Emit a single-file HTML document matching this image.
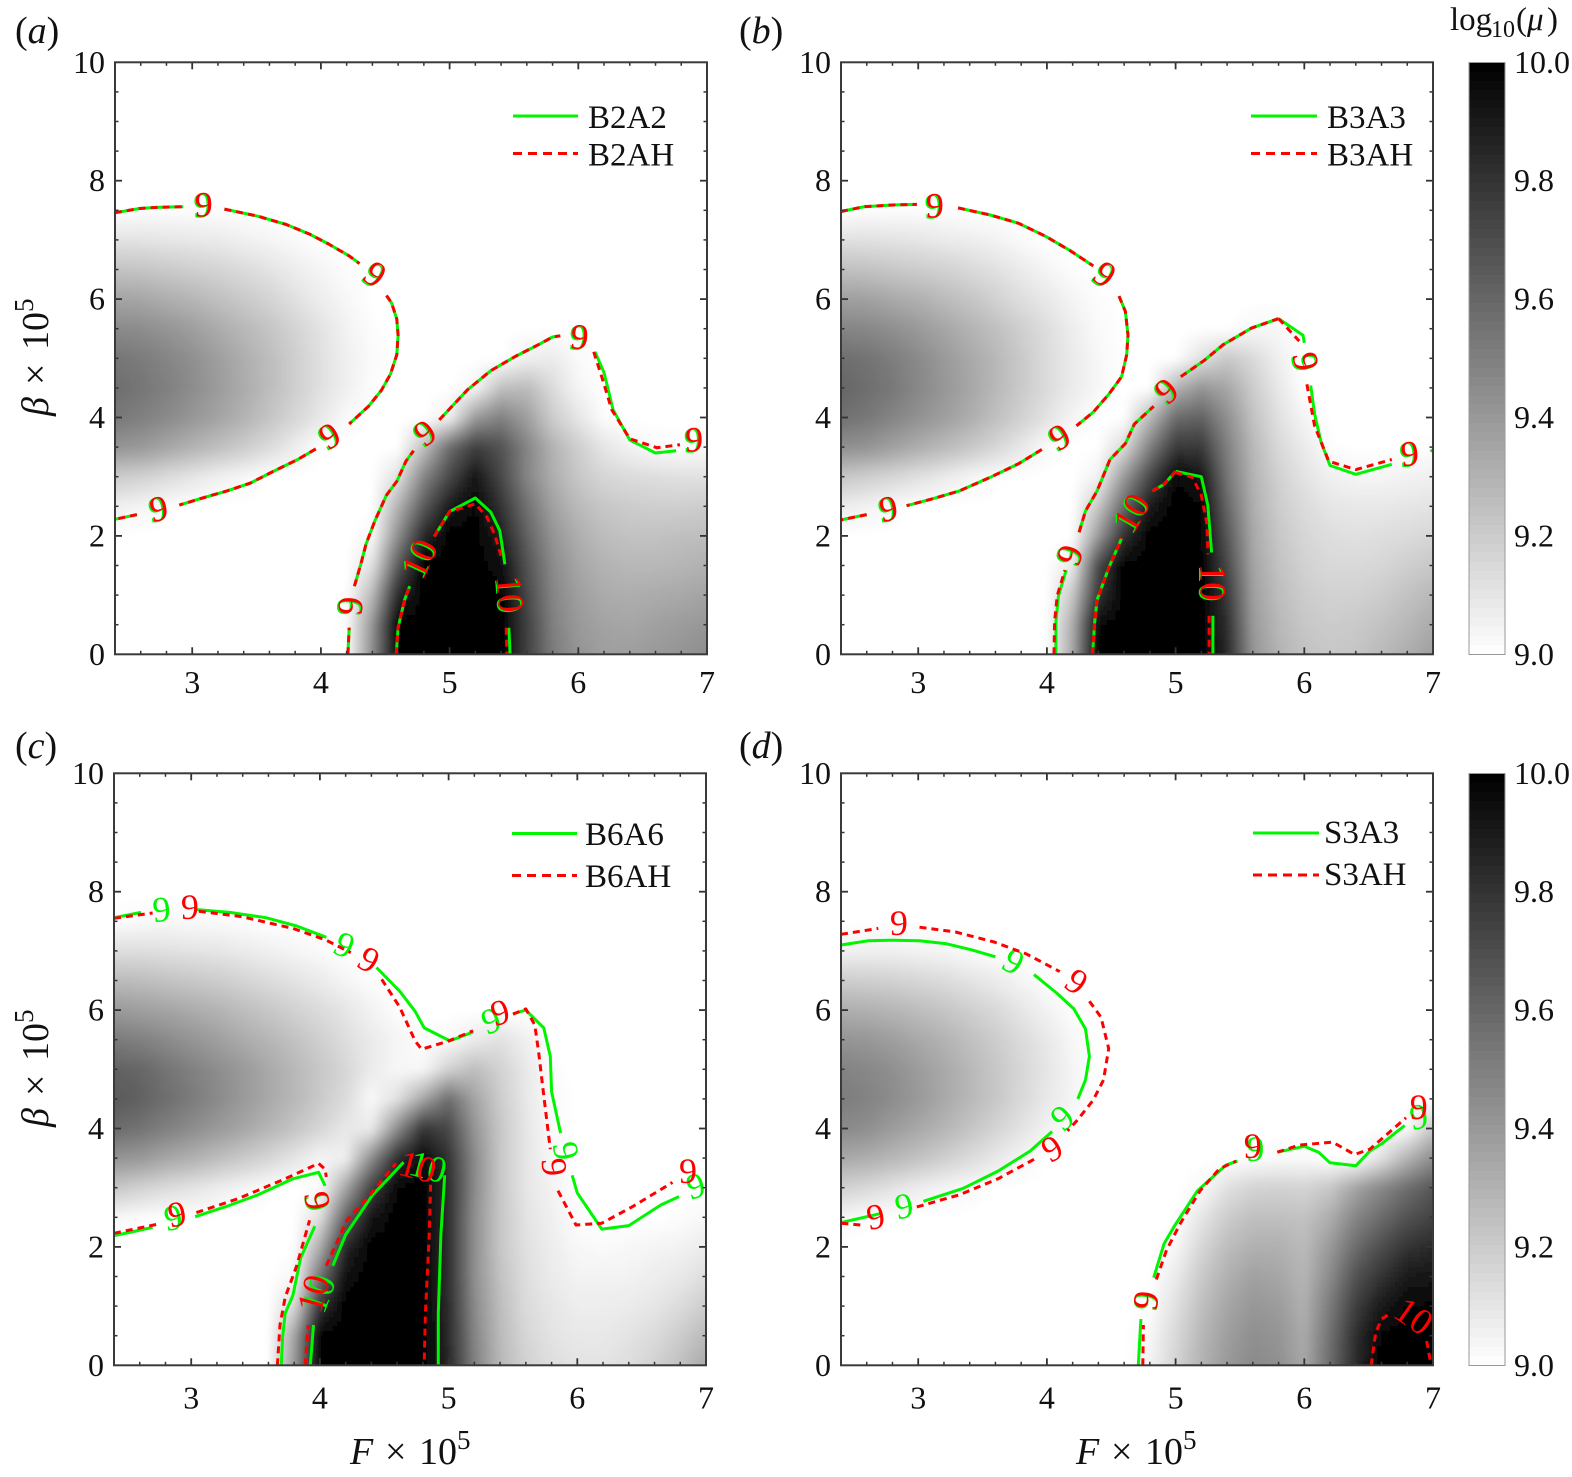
<!DOCTYPE html>
<html lang="en">
<head>
<meta charset="utf-8">
<title>Contour panels of log10(mu)</title>
<style>
html,body{margin:0;padding:0;background:#fff;}
svg{display:block;}
text{font-family:"Liberation Serif","DejaVu Serif",serif;fill:#111;}
</style>
</head>
<body>
<svg id="figure" xmlns="http://www.w3.org/2000/svg" width="1572" height="1477" viewBox="0 0 1572 1477">
  <defs>
    <filter id="soften" x="-5%" y="-5%" width="110%" height="110%"><feGaussianBlur stdDeviation="3.2"/></filter>
  </defs>
  <g id="layer-heat"></g>
  <g id="layer-lines"></g>
  <g id="layer-axes"></g>

  <text x="15" y="43" font-size="38">(<tspan font-style="italic">a</tspan>)</text>
  <text x="739" y="43" font-size="38">(<tspan font-style="italic">b</tspan>)</text>
  <text x="15" y="758" font-size="38">(<tspan font-style="italic">c</tspan>)</text>
  <text x="739" y="758" font-size="38">(<tspan font-style="italic">d</tspan>)</text>

  <g transform="translate(48,416) rotate(-90)">
    <text font-size="38" x="0" y="0" font-style="italic">β</text><text font-size="38" x="31" y="0">×</text><text font-size="38" x="66" y="0">10</text><text font-size="27" x="104" y="-15">5</text>
  </g>
  <g transform="translate(48,1127) rotate(-90)">
    <text font-size="38" x="0" y="0" font-style="italic">β</text><text font-size="38" x="31" y="0">×</text><text font-size="38" x="66" y="0">10</text><text font-size="27" x="104" y="-15">5</text>
  </g>
  <g transform="translate(350,1464)">
    <text font-size="38" x="0" y="0" font-style="italic">F</text><text font-size="38" x="35" y="0">×</text><text font-size="38" x="69" y="0">10</text><text font-size="27" x="107" y="-15">5</text>
  </g>
  <g transform="translate(1076,1464)">
    <text font-size="38" x="0" y="0" font-style="italic">F</text><text font-size="38" x="35" y="0">×</text><text font-size="38" x="69" y="0">10</text><text font-size="27" x="107" y="-15">5</text>
  </g>

  <g>
    <line x1="513" y1="116" x2="578" y2="116" stroke="#00f500" stroke-width="3"/>
    <text x="588" y="128" font-size="33">B2A2</text>
    <line x1="513" y1="153.5" x2="578" y2="153.5" stroke="#f00" stroke-width="3" stroke-dasharray="9 6"/>
    <text x="588" y="165.5" font-size="33">B2AH</text>
  </g>
  <g>
    <line x1="1251" y1="116" x2="1317" y2="116" stroke="#00f500" stroke-width="3"/>
    <text x="1327" y="128" font-size="33">B3A3</text>
    <line x1="1251" y1="153.5" x2="1317" y2="153.5" stroke="#f00" stroke-width="3" stroke-dasharray="9 6"/>
    <text x="1327" y="165.5" font-size="33">B3AH</text>
  </g>
  <g>
    <line x1="512" y1="833.5" x2="577" y2="833.5" stroke="#00f500" stroke-width="3"/>
    <text x="585" y="845" font-size="33">B6A6</text>
    <line x1="512" y1="875.5" x2="577" y2="875.5" stroke="#f00" stroke-width="3" stroke-dasharray="9 6"/>
    <text x="585" y="887" font-size="33">B6AH</text>
  </g>
  <g>
    <line x1="1253" y1="833" x2="1319" y2="833" stroke="#00f500" stroke-width="3"/>
    <text x="1324" y="843" font-size="33">S3A3</text>
    <line x1="1253" y1="875" x2="1319" y2="875" stroke="#f00" stroke-width="3" stroke-dasharray="9 6"/>
    <text x="1324" y="885" font-size="33">S3AH</text>
  </g>

  <g>
    <text font-size="33" x="1450" y="30">log</text><text font-size="24" x="1491" y="37">10</text><text font-size="33" x="1516" y="30">(</text><text font-size="33" x="1527" y="30" font-style="italic">μ</text><text font-size="33" x="1547" y="30">)</text>
  </g>
</svg>

<script>
// ---------- axis values ----------
const xTickLabels = [3, 4, 5, 6, 7];
const yTickLabels = [0, 2, 4, 6, 8, 10];
const colorbarTickLabels = ["9.0", "9.2", "9.4", "9.6", "9.8", "10.0"];
const heatF = [2.4,2.6,2.8,3.0,3.2,3.4,3.6,3.8,4.0,4.2,4.4,4.6,4.8,5.0,5.2,5.4,5.6,5.8,6.0,6.2,6.4,6.6,6.8,7.0];
const heatBeta = [0,0.5,1,1.5,2,2.5,3,3.5,4,4.5,5,5.5,6,6.5,7,7.5,8];

// ---------- heatmap values: (log10(mu) - 9) x 100, rows by beta, columns by F; omitted trailing values are 0 ----------
const heatA = [
[0,0,0,0,0,0,0,0,0,0,45,100,100,100,100,100,75,52,42,38,38,40,42,45],
[0,0,0,0,0,0,0,0,0,1,42,100,100,100,100,100,75,50,40,36,35,37,39,41],
[0,0,0,0,0,0,0,0,0,0,28,85,100,100,100,100,72,48,38,33,32,33,34,36],
[0,0,0,0,0,0,0,0,0,0,12,65,100,100,100,95,68,46,35,30,28,28,29,31],
[0,0,0,0,0,0,0,0,0,0,2,45,85,100,100,88,62,42,32,26,24,24,25,26],
[6,4,1,0,0,0,0,0,0,0,0,30,65,90,98,80,56,37,27,22,20,19,19,20],
[20,18,14,10,6,3,0,0,0,0,0,12,48,72,92,72,48,32,22,16,14,13,12,12],
[42,40,35,30,25,20,14,7,0,0,0,0,25,58,76,68,48,30,19,10,5,2,1,2],
[53,50,46,41,36,30,23,16,9,2,0,0,0,6,40,50,38,20,10,1],
[57,54,50,45,39,33,26,19,12,6,1,0,0,0,4,25,27,14,4],
[54,52,48,44,38,32,26,19,12,6,2,0,0,0,0,0,6,8,2],
[46,45,42,38,33,28,23,17,11,5,1],
[36,35,32,29,25,21,17,12,7,3],
[24,23,21,19,17,14,11,7,4,1],
[11,11,10,9,8,6,4,2],
[0,1,1,1,1],
[]
];
const heatB = [
[0,0,0,0,0,0,0,0,0,35,100,100,100,100,100,85,42,30,24,22,23,27,32,38],
[0,0,0,0,0,0,0,0,0,32,98,100,100,100,100,82,40,28,22,20,21,24,28,33],
[0,0,0,0,0,0,0,0,0,22,80,100,100,100,100,78,38,26,20,18,18,20,24,28],
[0,0,0,0,0,0,0,0,0,8,72,100,100,100,100,72,36,24,18,15,15,16,19,22],
[0,0,0,0,0,0,0,0,0,0,40,82,100,100,100,66,34,22,16,13,12,13,14,16],
[7,5,2,0,0,0,0,0,0,0,22,60,90,100,98,60,32,20,14,10,9,9,10,11],
[22,19,16,12,8,4,1,0,0,0,5,40,72,98,92,54,30,18,11,6,4,4,5,6],
[44,42,37,32,27,22,16,9,2,0,0,15,50,78,78,50,28,15,8,1,0,0,0,1],
[56,53,48,43,38,32,25,18,11,4,0,0,28,58,62,44,24,12,4],
[60,57,53,47,41,35,28,21,14,8,3,0,0,30,42,35,20,9],
[57,55,51,46,40,34,28,21,14,8,3,0,0,0,12,22,15,6],
[48,47,44,40,35,30,25,19,13,7,2,0,0,0,0,0,3,3],
[38,37,34,31,27,23,18,13,9,4,1],
[25,24,22,20,18,15,12,8,4,1],
[12,12,11,10,8,7,5,2],
[0,1,1,1,1],
[]
];
const heatC = [
[0,0,0,0,0,0,0,40,100,100,100,100,100,85,50,28,18,13,11,11,13,18,25,34],
[0,0,0,0,0,0,0,35,100,100,100,100,100,84,48,27,16,11,9,9,11,14,20,27],
[0,0,0,0,0,0,0,15,80,100,100,100,100,83,46,26,14,10,7,7,8,10,14,20],
[0,0,0,0,0,0,0,3,55,95,100,100,100,82,44,24,13,8,5,5,5,7,9,13],
[0,0,0,0,0,0,0,0,32,85,100,100,100,82,44,22,12,7,3,2,3,4,5,8],
[3,1,0,0,0,0,0,0,12,62,92,100,100,82,44,22,11,6,1,0,0,0,1,3],
[22,18,14,11,7,4,1,0,1,35,75,98,100,82,46,22,10,5],
[42,40,35,31,26,21,16,10,4,6,45,82,96,80,46,22,10,3],
[58,55,50,45,40,35,29,23,16,9,8,45,80,72,42,22,10,2],
[65,62,57,52,46,40,34,28,21,14,2,12,35,58,36,20,9,2],
[62,60,55,50,45,40,34,28,22,16,8,3,3,18,26,18,9,1],
[52,50,46,42,38,33,29,24,19,13,8,4,1,2,8,12,6],
[40,38,36,33,30,26,22,18,14,10,5,1],
[27,26,24,22,20,17,14,11,8,4,1],
[13,13,12,11,10,8,6,4,2],
[1,2,3,2,2,1],
[]
];
const heatD = [
[0,0,0,0,0,0,0,0,0,0,0,0,5,17,30,40,46,44,34,58,84,100,100,100],
[0,0,0,0,0,0,0,0,0,0,0,0,3,15,28,38,44,42,33,56,82,98,100,100],
[0,0,0,0,0,0,0,0,0,0,0,0,1,12,25,35,41,39,31,52,76,90,98,98],
[0,0,0,0,0,0,0,0,0,0,0,0,0,8,21,31,37,35,29,46,68,80,90,92],
[0,0,0,0,0,0,0,0,0,0,0,0,0,3,16,26,31,31,27,40,58,70,80,84],
[3,1,0,0,0,0,0,0,0,0,0,0,0,0,10,20,25,25,24,32,48,58,68,74],
[18,15,11,7,4,2,0,0,0,0,0,0,0,0,2,12,17,18,17,22,36,47,57,66],
[34,32,28,24,19,14,9,4,0,0,0,0,0,0,0,0,1,2,2,0,0,12,30,45],
[46,44,39,34,29,23,17,11,5,1,0,0,0,0,0,0,0,0,0,0,0,0,2,22],
[51,49,45,40,34,28,22,15,9,4],
[49,47,44,39,34,28,22,16,10,4],
[42,41,38,34,30,25,20,14,9,3],
[32,31,29,26,23,19,15,10,5,1],
[20,19,18,16,14,11,8,4,1],
[5,6,6,5,4,2],
[],
[]
];

// ---------- contour polylines as [F, beta] ----------
const upperA = [
[[2.4,7.46],[2.59,7.53],[2.74,7.55],[2.93,7.56]],
[[3.25,7.52],[3.51,7.40],[3.73,7.26],[3.91,7.10],[4.06,6.93],[4.22,6.73],[4.30,6.60]],
[[4.51,6.06],[4.55,5.93],[4.59,5.66],[4.60,5.39],[4.59,5.06],[4.54,4.73],[4.47,4.46],[4.37,4.19],[4.22,3.89]],
[[3.96,3.47],[3.82,3.29],[3.63,3.09],[3.45,2.89],[3.27,2.76],[3.08,2.64],[2.90,2.52]],
[[2.57,2.36],[2.4,2.28]],
[[4.21,0],[4.22,0.45]],
[[4.26,1.15],[4.31,1.52],[4.35,1.86],[4.42,2.26],[4.51,2.69],[4.59,2.92],[4.66,3.26],[4.72,3.44]],
[[4.92,3.96],[5.14,4.47],[5.32,4.79],[5.51,5.03],[5.69,5.23],[5.80,5.36],[5.86,5.38]],
[[4.585,0],[4.60,0.45],[4.65,0.92],[4.69,1.15]]
];
const greenA = [
[[6.13,5.11],[6.20,4.76],[6.27,4.13],[6.40,3.62],[6.60,3.40],[6.76,3.44]],
[[4.88,1.99],[5.0,2.41],[5.2,2.64],[5.32,2.40],[5.39,2.09],[5.43,1.52]],
[[5.46,0.45],[5.47,0]]
];
const redA = [
[[6.12,5.11],[6.18,4.70],[6.26,4.13],[6.40,3.64],[6.61,3.49],[6.79,3.54]],
[[4.88,1.99],[5.0,2.41],[5.2,2.54],[5.29,2.32],[5.35,2.02],[5.41,1.59]],
[[5.44,0.45],[5.445,0]]
];
const labelsA = [
[3.09,7.6,"9",0],[4.42,6.42,"9",35],[4.07,3.69,"9",-30],[2.74,2.46,"9",-10],[4.23,0.82,"9",-85],[4.81,3.74,"9",-35],[6.01,5.36,"9",5],[6.90,3.63,"9",0],[4.77,1.62,"10",-65],[5.47,1.02,"10",85]
];

const upperB = [
[[2.4,7.48],[2.58,7.56],[2.80,7.59],[2.99,7.60]],
[[3.31,7.54],[3.56,7.42],[3.78,7.28],[3.99,7.06],[4.18,6.82],[4.36,6.56]],
[[4.56,6.05],[4.61,5.79],[4.63,5.39],[4.62,5.06],[4.58,4.69],[4.48,4.39],[4.36,4.09],[4.23,3.86]],
[[3.96,3.46],[3.78,3.22],[3.56,2.99],[3.32,2.76],[3.10,2.62],[2.91,2.51]],
[[2.60,2.36],[2.4,2.27]],
[[4.25,2.06],[4.30,2.42],[4.39,2.76],[4.49,3.29],[4.61,3.56],[4.68,3.89],[4.83,4.19]],
[[5.04,4.69],[5.22,4.96],[5.37,5.23],[5.59,5.51],[5.80,5.67]],
[[4.355,0],[4.37,0.52],[4.39,0.92],[4.48,1.46],[4.58,1.96]],
[[4.82,2.76],[4.91,2.87],[5.0,3.09]]
];
const greenB = [
[[4.07,0],[4.07,0.55],[4.09,0.99],[4.15,1.42]],
[[5.80,5.67],[5.99,5.39],[6.0,5.26]],
[[6.05,4.54],[6.08,4.06],[6.13,3.59],[6.20,3.19],[6.40,3.04],[6.68,3.21]],
[[6.98,3.45],[7.0,3.43]],
[[5.0,3.09],[5.2,3.0],[5.25,2.52],[5.28,1.72]],
[[5.29,0.65],[5.29,0]]
];
const redB = [
[[4.055,0],[4.06,0.55],[4.08,0.99],[4.14,1.42]],
[[5.80,5.67],[5.96,5.29]],
[[6.02,4.56],[6.08,3.86],[6.19,3.26],[6.40,3.12],[6.68,3.29]],
[[5.0,3.07],[5.13,2.99],[5.2,2.69],[5.245,2.19],[5.25,1.69]],
[[5.26,0.65],[5.26,0]]
];
const labelsB = [
[3.13,7.58,"9",0],[4.45,6.42,"9",35],[4.10,3.67,"9",-30],[2.77,2.46,"9",-10],[4.18,1.68,"9",-70],[4.93,4.45,"9",-40],[6.01,4.95,"9",80],[6.82,3.39,"9",-5],[4.66,2.39,"10",-60],[5.29,1.22,"10",90]
];

const greenC = [
[[2.4,7.56],[2.61,7.65]],
[[3.03,7.70],[3.30,7.65],[3.58,7.56],[3.82,7.42],[4.05,7.23]],
[[4.44,6.72],[4.62,6.32],[4.74,5.98],[4.81,5.70],[5.01,5.48],[5.19,5.63]],
[[5.50,5.94],[5.60,6.0],[5.74,5.70],[5.79,5.22],[5.80,4.62],[5.87,3.92]],
[[5.96,3.21],[6.0,2.91],[6.19,2.30],[6.40,2.36],[6.65,2.71],[6.79,2.85]],
[[2.4,2.19],[2.70,2.33]],
[[3.03,2.51],[3.27,2.68],[3.52,2.88],[3.79,3.15],[3.99,3.26],[4.04,3.03]],
[[3.70,0],[3.71,0.48],[3.73,0.88],[3.79,1.18],[3.85,1.81],[3.96,2.35]],
[[3.925,0],[3.95,0.68]],
[[4.10,1.68],[4.2,2.21],[4.41,2.88],[4.53,3.15],[4.65,3.43]],
[[4.97,3.21],[4.94,2.21],[4.92,0.88],[4.92,0]]
];
const redC = [
[[2.4,7.55],[2.70,7.64]],
[[3.06,7.67],[3.39,7.58],[3.79,7.38],[4.05,7.18],[4.24,6.97]],
[[4.48,6.52],[4.62,6.05],[4.74,5.48],[4.79,5.34],[4.99,5.47],[5.19,5.65]],
[[5.50,5.93],[5.6,6.02],[5.67,5.75],[5.70,5.28],[5.74,4.55],[5.79,3.65]],
[[5.85,2.95],[5.99,2.37],[6.19,2.40],[6.43,2.68],[6.74,3.09]],
[[2.4,2.23],[2.73,2.38]],
[[3.04,2.58],[3.36,2.81],[3.73,3.15],[3.99,3.41],[4.04,3.31],[4.05,3.18]],
[[3.67,0],[3.69,0.68],[3.73,1.15],[3.82,1.68],[3.92,2.45]],
[[3.885,0],[3.91,0.68]],
[[4.05,1.68],[4.21,2.45],[4.38,2.85],[4.59,3.41]],
[[4.86,3.05],[4.85,2.21],[4.82,0.88],[4.81,0]]
];
const greenLabelsC = [
[2.77,7.7,"9",-5],[4.19,7.10,"9",25],[5.33,5.82,"9",-20],[5.91,3.62,"9",80],[6.92,3.03,"9",-15],[2.86,2.49,"9",-10],[3.98,2.76,"9",75],[3.99,1.21,"10",-70],[4.84,3.35,"10",15]
];
const redLabelsC = [
[2.99,7.74,"9",0],[4.38,6.85,"9",30],[5.40,5.96,"9",-15],[5.82,3.35,"9",85],[6.86,3.28,"9",0],[2.89,2.55,"9",-10],[3.98,2.78,"9",80],[3.95,1.21,"10",-75],[4.76,3.35,"10",15]
];

const greenD = [
[[2.4,7.10],[2.61,7.17],[2.81,7.18],[3.01,7.17],[3.22,7.12],[3.41,7.02],[3.60,6.90]],
[[3.90,6.60],[4.08,6.28],[4.21,6.02],[4.30,5.68],[4.33,5.22],[4.30,4.82],[4.24,4.50]],
[[4.04,3.95],[3.87,3.62],[3.62,3.28],[3.35,2.99],[3.04,2.77]],
[[2.72,2.57],[2.4,2.41]],
[[4.71,0],[4.73,0.78]],
[[4.83,1.48],[4.91,2.05],[4.99,2.35],[5.17,2.95],[5.39,3.38],[5.48,3.45]],
[[5.79,3.60],[6.0,3.70],[6.11,3.60],[6.2,3.42],[6.40,3.37],[6.51,3.62],[6.60,3.74],[6.78,4.05]]
];
const redD = [
[[2.4,7.28],[2.69,7.38]],
[[3.01,7.40],[3.29,7.32],[3.59,7.15],[3.84,6.95],[4.10,6.65]],
[[4.33,6.15],[4.42,5.88],[4.48,5.35],[4.44,4.82],[4.36,4.48],[4.24,4.15],[4.16,3.96]],
[[3.90,3.48],[3.62,3.15],[3.32,2.88],[2.95,2.65]],
[[2.55,2.37],[2.4,2.40]],
[[4.745,0],[4.75,0.68]],
[[4.85,1.45],[4.93,1.95],[5.04,2.41],[5.19,2.95],[5.34,3.32],[5.47,3.45]],
[[5.79,3.60],[5.96,3.72],[6.22,3.77],[6.39,3.56],[6.51,3.65],[6.79,4.18]],
[[6.52,0],[6.555,0.55],[6.60,0.78],[6.65,0.85]],
[[6.95,0.41],[6.985,0]]
];
const greenLabelsD = [
[3.74,6.82,"9",30],[4.12,4.18,"9",-40],[2.89,2.69,"9",-10],[4.77,1.08,"9",-80],[5.62,3.65,"9",0],[6.89,4.20,"9",-10]
];
const redLabelsD = [
[2.85,7.47,"9",0],[4.23,6.48,"9",35],[4.04,3.66,"9",-30],[2.67,2.51,"9",-10],[4.77,1.10,"9",-80],[5.6,3.70,"9",0],[6.89,4.36,"9",0],[6.85,0.83,"10",35]
];

// ---------- layout ----------
const SVGNS = "http://www.w3.org/2000/svg";
const SIZE = 592;
const fMin = 2.4, fMax = 7, bMin = 0, bMax = 10;
const layerHeat = document.getElementById("layer-heat");
const layerLines = document.getElementById("layer-lines");
const layerAxes = document.getElementById("layer-axes");
const defsEl = document.querySelector("defs");

function makeEl(parent, tag, attrs) {
  const el = document.createElementNS(SVGNS, tag);
  for (const k in attrs) el.setAttribute(k, attrs[k]);
  parent.appendChild(el);
  return el;
}
function xAxis(p, f) { return p.left + (f - fMin) / (fMax - fMin) * SIZE; }
function yAxis(p, b) { return p.top + SIZE * (1 - (b - bMin) / (bMax - bMin)); }
function grayOf(v) {
  const c = Math.round(255 * (1 - Math.max(0, Math.min(100, v)) / 100));
  return "rgb(" + c + "," + c + "," + c + ")";
}

function drawHeat(p, heat) {
  const clip = makeEl(defsEl, "clipPath", { id: "clip-" + p.id });
  makeEl(clip, "rect", { x: p.left, y: p.top, width: SIZE, height: SIZE });
  const outer = makeEl(layerHeat, "g", { "clip-path": "url(#clip-" + p.id + ")" });
  
  
  const g = makeEl(outer, "g", { filter: "url(#soften)", "shape-rendering": "crispEdges" });
  
  
  const SUB = 6, BLEED = 14;
  const lastJ = heatF.length - 2;
  for (let i = 0; i < heatBeta.length - 1; i++) {
    for (let j = 0; j < heatF.length - 1; j++) {
      const v00 = heat[i][j] || 0, v01 = heat[i][j + 1] || 0;
      const v10 = heat[i + 1][j] || 0, v11 = heat[i + 1][j + 1] || 0;
      if (v00 + v01 + v10 + v11 === 0) continue;
      for (let a = 0; a < SUB; a++) {
        for (let b = 0; b < SUB; b++) {
          const tb = (a + 0.5) / SUB, tf = (b + 0.5) / SUB;
          const v = (v00 * (1 - tf) + v01 * tf) * (1 - tb) + (v10 * (1 - tf) + v11 * tf) * tb;
          if (v < 0.4) continue;
          const f0 = heatF[j] + (heatF[j + 1] - heatF[j]) * b / SUB;
          const f1 = heatF[j] + (heatF[j + 1] - heatF[j]) * (b + 1) / SUB;
          const b0 = heatBeta[i] + (heatBeta[i + 1] - heatBeta[i]) * a / SUB;
          const b1 = heatBeta[i] + (heatBeta[i + 1] - heatBeta[i]) * (a + 1) / SUB;
          let x = xAxis(p, f0), y = yAxis(p, b1);
          let w = xAxis(p, f1) - x + 0.4, h = yAxis(p, b0) - y + 0.4;
          // edge cells bleed past the frame so the softening stays even up to the axes
          if (j === 0 && b === 0) { x -= BLEED; w += BLEED; }
          if (j === lastJ && b === SUB - 1) { w += BLEED; }
          if (i === 0 && a === 0) { h += BLEED; }
          const cell = makeEl(g, "rect", {
            x: x.toFixed(2), y: y.toFixed(2),
            width: w.toFixed(2),
            height: h.toFixed(2),
            fill: grayOf(v)
          });
          
          
        }
      }
    }
  }
}

function drawLines(p, segments, color, dash, name) {
  segments.forEach(function (seg) {
    const pts = seg.map(function (q) { return xAxis(p, q[0]).toFixed(1) + "," + yAxis(p, q[1]).toFixed(1); }).join(" ");
    const attrs = { points: pts, fill: "none", stroke: color, "stroke-width": 3, "stroke-linejoin": "round" };
    if (dash) attrs["stroke-dasharray"] = dash;
    const line = makeEl(layerLines, "polyline", attrs);
    
    
  });
}

function drawLabels(p, labels, color, dx, dy, name) {
  labels.forEach(function (l) {
    const x = xAxis(p, l[0]) + dx, y = yAxis(p, l[1]) + dy;
    const size = l[2] === "10" ? 37 : 36;
    const t = makeEl(layerLines, "text", {
      x: x.toFixed(1), y: y.toFixed(1), "font-size": size, "text-anchor": "middle", dy: "0.33em",
      transform: "rotate(" + l[3] + " " + x.toFixed(1) + " " + y.toFixed(1) + ")",
      style: "fill:" + color
    });
    t.textContent = l[2];
    
    
  });
}

function drawAxes(p) {
  const TICK = "#333";
  const g = makeEl(layerAxes, "g", {});
  
  
  for (let k = 1; k <= 23; k++) {
    const f = fMin + k * 0.2;
    const major = Math.abs(f - Math.round(f)) < 1e-6;
    const len = major ? 7 : 3.5;
    const x = xAxis(p, f);
    [[p.top + SIZE, p.top + SIZE - len], [p.top, p.top + len]].forEach(function (e) {
      const tk = makeEl(g, "line", { x1: x, x2: x, y1: e[0], y2: e[1], stroke: TICK, "stroke-width": major ? 1.8 : 1.5 });
      
      
    });
  }
  for (let k = 1; k < 20; k++) {
    const b = k * 0.5;
    const major = k % 4 === 0;
    const len = major ? 7 : 3.5;
    const y = yAxis(p, b);
    [[p.left, p.left + len], [p.left + SIZE, p.left + SIZE - len]].forEach(function (e) {
      const tk = makeEl(g, "line", { y1: y, y2: y, x1: e[0], x2: e[1], stroke: TICK, "stroke-width": major ? 1.8 : 1.5 });
      
      
    });
  }
  const frame = makeEl(g, "rect", { x: p.left, y: p.top, width: SIZE, height: SIZE, fill: "none", stroke: "#3a3a3a", "stroke-width": 2 });
  
  
  xTickLabels.forEach(function (v) {
    const t = makeEl(g, "text", { x: xAxis(p, v), y: p.top + SIZE + p.xLabelGap, "font-size": 32, "text-anchor": "middle" });
    t.textContent = v;
    
    
  });
  yTickLabels.forEach(function (v) {
    const t = makeEl(g, "text", { x: p.left - 10, y: yAxis(p, v) + 10.5, "font-size": 32, "text-anchor": "end" });
    t.textContent = v;
    
    
  });
}

function drawColorbar(id, top) {
  const g = makeEl(layerAxes, "g", { "shape-rendering": "crispEdges" });
  
  
  const LEFT = 1469, W = 36, STEPS = 64;
  for (let s = 0; s < STEPS; s++) {
    const y = top + SIZE * s / STEPS;
    const r = makeEl(g, "rect", { x: LEFT, y: y.toFixed(2), width: W, height: (SIZE / STEPS + 0.5).toFixed(2), fill: grayOf(100 * (1 - (s + 0.5) / STEPS)) });
    
    
  }
  const edge = makeEl(g, "rect", { x: LEFT, y: top, width: W, height: SIZE, fill: "none", stroke: "#999", "stroke-width": 1 });
  
  
  colorbarTickLabels.forEach(function (lab) {
    const y = top + SIZE * (10 - parseFloat(lab));
    const t = makeEl(g, "text", { x: 1514, y: y + 10.5, "font-size": 32 });
    t.textContent = lab;
    
    
  });
}

const panelA = { id: "a", left: 115, top: 62.3, xLabelGap: 38.5 };
const panelB = { id: "b", left: 841, top: 62.3, xLabelGap: 38.5 };
const panelC = { id: "c", left: 114, top: 773.3, xLabelGap: 43 };
const panelD = { id: "d", left: 841, top: 773.3, xLabelGap: 43 };
const DASH = "7 5";
const GREEN = "#00f500";
const RED = "#ff0000";

drawHeat(panelA, heatA);
drawHeat(panelB, heatB);
drawHeat(panelC, heatC);
drawHeat(panelD, heatD);

drawLines(panelA, upperA.concat(greenA), GREEN, null, "contour-b2a2");
drawLabels(panelA, labelsA, GREEN, -1.5, 1, "contour-label-b2a2");
drawLines(panelA, upperA.concat(redA), RED, DASH, "contour-b2ah");
drawLabels(panelA, labelsA, RED, 0, 0, "contour-label-b2ah");

drawLines(panelB, upperB.concat(greenB), GREEN, null, "contour-b3a3");
drawLabels(panelB, labelsB, GREEN, -1.5, 1, "contour-label-b3a3");
drawLines(panelB, upperB.concat(redB), RED, DASH, "contour-b3ah");
drawLabels(panelB, labelsB, RED, 0, 0, "contour-label-b3ah");

drawLines(panelC, greenC, GREEN, null, "contour-b6a6");
drawLabels(panelC, greenLabelsC, GREEN, 0, 0, "contour-label-b6a6");
drawLines(panelC, redC, RED, DASH, "contour-b6ah");
drawLabels(panelC, redLabelsC, RED, 0, 0, "contour-label-b6ah");

drawLines(panelD, greenD, GREEN, null, "contour-s3a3");
drawLabels(panelD, greenLabelsD, GREEN, 0, 0, "contour-label-s3a3");
drawLines(panelD, redD, RED, DASH, "contour-s3ah");
drawLabels(panelD, redLabelsD, RED, 0, 0, "contour-label-s3ah");

drawAxes(panelA);
drawAxes(panelB);
drawAxes(panelC);
drawAxes(panelD);
drawColorbar("top", 62.3);
drawColorbar("bottom", 773.3);
</script>
</body>
</html>
